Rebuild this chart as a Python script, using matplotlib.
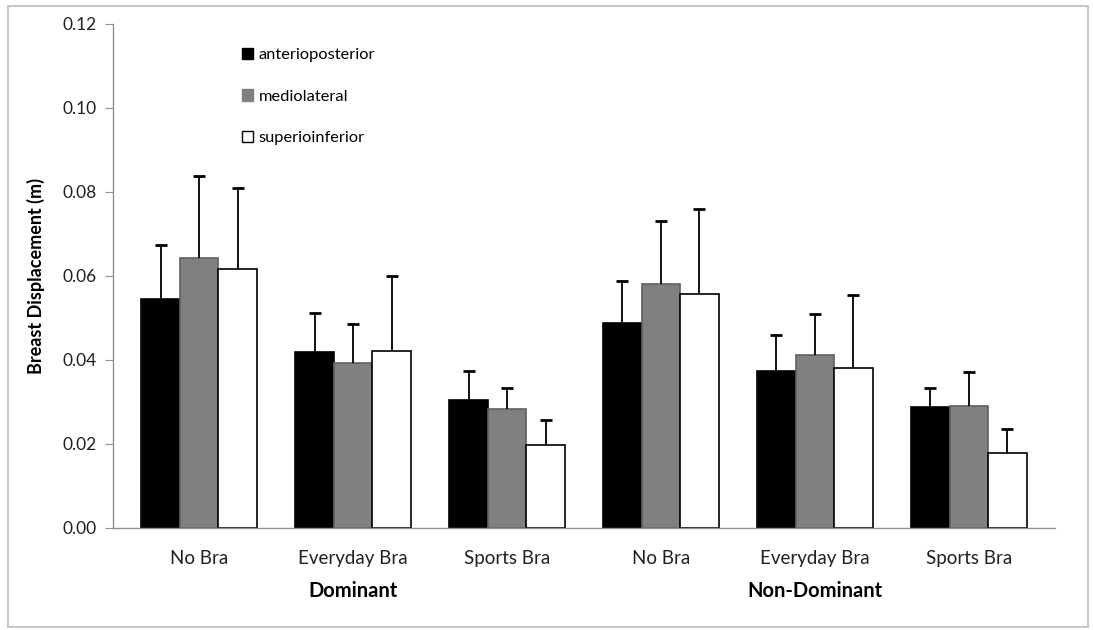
import numpy as np
import matplotlib
matplotlib.use("Agg")
import matplotlib.pyplot as plt
from matplotlib.patches import Rectangle, Patch

plt.rcParams['font.family'] = ['Lato', 'DejaVu Sans']

conditions = ["No Bra", "Everyday Bra", "Sports Bra", "No Bra", "Everyday Bra", "Sports Bra"]
sides = ["Dominant", "Non-Dominant"]
series = ["anterioposterior", "mediolateral", "superioinferior"]

# means and upper error-bar tops (m)
ap_mean = [0.0546, 0.0419, 0.0304, 0.0487, 0.0375, 0.0289]
ap_top = [0.0675, 0.0511, 0.0375, 0.0589, 0.0460, 0.0334]
ml_mean = [0.0642, 0.0394, 0.0283, 0.0580, 0.0413, 0.0291]
ml_top = [0.0838, 0.0486, 0.0334, 0.0732, 0.0509, 0.0372]
si_mean = [0.0617, 0.0421, 0.0198, 0.0558, 0.0381, 0.0179]
si_top = [0.0809, 0.0601, 0.0257, 0.0760, 0.0555, 0.0236]

means = [ap_mean, ml_mean, si_mean]
tops = [ap_top, ml_top, si_top]
colors = ["#000000", "#808080", "#ffffff"]
edges = ["black", "#606060", "black"]

fig = plt.figure(figsize=(10.93, 6.30), dpi=100)
ax = fig.add_axes([113 / 1093, 102 / 630, (1055 - 113) / 1093, 504 / 630])

# outer frame around the chart area
fig.patches.append(Rectangle((8 / 1093, 3 / 630), 1080 / 1093, 621 / 630,
                             transform=fig.transFigure, fill=False,
                             edgecolor="#c8c8c8", linewidth=1.5))

x = np.arange(len(conditions))
w = 0.25
for i, (m, t, c, e) in enumerate(zip(means, tops, colors, edges)):
    pos = x + (i - 1) * w
    ax.bar(pos, m, width=w, color=c, edgecolor=e, linewidth=1.2, zorder=2)
    # upper-only error bars
    ax.vlines(pos, m, t, color="black", linewidth=1.3, zorder=3)
    ax.plot(pos, t, linestyle="none", marker="_", markersize=8,
            markeredgewidth=2, color="black", zorder=3)

ax.set_xlim(-0.56, 5.56)
ax.set_ylim(0, 0.12)
ax.set_yticks(np.arange(0, 0.121, 0.02))
ax.set_yticklabels([f"{v:.2f}" for v in np.arange(0, 0.121, 0.02)], fontsize=12.5,
                   color="#202020")
ax.set_xticks(x)
ax.set_xticklabels(conditions, fontsize=13.5, color="#202020")
ax.tick_params(axis="x", length=0, pad=16)
ax.tick_params(axis="y", length=6, color="#909090", direction="out", pad=6)

for s in ["top", "right"]:
    ax.spines[s].set_visible(False)
for s in ["left", "bottom"]:
    ax.spines[s].set_color("#909090")
    ax.spines[s].set_linewidth(1)

ax.set_ylabel("Breast Displacement (m)", fontsize=13, fontweight="bold", labelpad=12)

for gx, name in zip([1, 4], sides):
    ax.text(gx, -0.0150, name, ha="center", va="center", fontsize=14.5,
            fontweight="bold", transform=ax.transData)

handles = [Patch(facecolor=c, edgecolor=e, linewidth=1)
           for c, e in zip(colors, ["black", "#808080", "black"])]
ax.legend(handles, series, loc="upper left", bbox_to_anchor=(0.13, 0.966),
          frameon=False, fontsize=11.8, handlelength=0.7, handleheight=0.7,
          handletextpad=0.3, labelspacing=1.65, borderaxespad=0)

fig.savefig("out.png", dpi=100)
